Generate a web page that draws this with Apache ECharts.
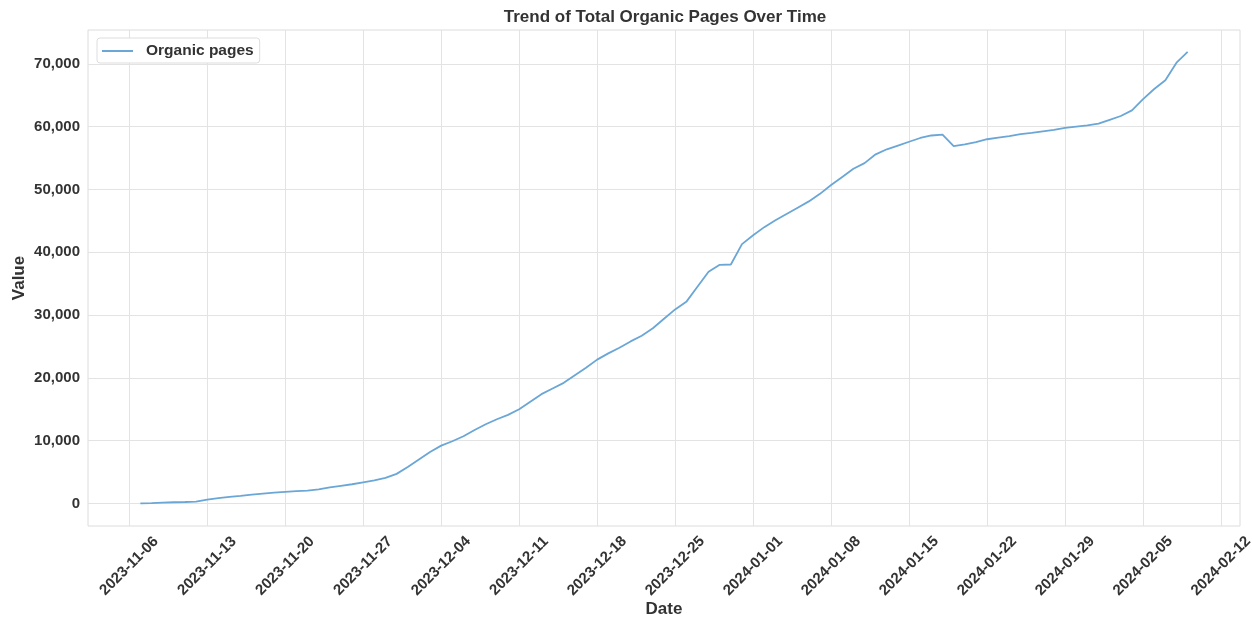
<!DOCTYPE html>
<html lang="en">
<head>
    <meta charset="UTF-8">
    <title>Trend of Total Organic Pages Over Time</title>
</head>
<body style="margin:0;background:#fff;">
    <div id="main" style="width:1252px;height:618px;"></div>
</body>
</html>
<script src="https://cdn.jsdelivr.net/npm/echarts@6/dist/echarts.min.js"></script>
<script type="text/javascript">
    const chart = echarts.init(document.getElementById('main'));

    // daily totals, 2023-11-07 .. 2024-02-09
    const startDate = '2023-11-07';
    const organicPages = [
        0, 50, 120, 180, 220, 280, 600, 850, 1050, 1200,
        1400, 1550, 1700, 1850, 1950, 2050, 2250, 2550, 2800, 3050,
        3350, 3650, 4050, 4700, 5800, 7000, 8200, 9200, 9900, 10700,
        11700, 12600, 13400, 14100, 15000, 16200, 17400, 18300, 19200, 20400,
        21600, 22900, 23900, 24800, 25800, 26700, 27900, 29400, 30900, 32100,
        34500, 36900, 38000, 38050, 41300, 42700, 44000, 45100, 46100, 47100,
        48100, 49300, 50700, 52000, 53300, 54200, 55600, 56400, 57000, 57600,
        58200, 58600, 58750, 56900, 57200, 57550, 58000, 58250, 58500, 58800,
        59000, 59250, 59500, 59800, 60000, 60200, 60500, 61100, 61700, 62600,
        64400, 66000, 67400, 70200, 71900
    ];

    const weekTicks = [
        '2023-11-06', '2023-11-13', '2023-11-20', '2023-11-27', '2023-12-04',
        '2023-12-11', '2023-12-18', '2023-12-25', '2024-01-01', '2024-01-08',
        '2024-01-15', '2024-01-22', '2024-01-29', '2024-02-05', '2024-02-12'
    ];
    const valueTicks = [0, 10000, 20000, 30000, 40000, 50000, 60000, 70000];

    const DAY = 24 * 3600 * 1000;

    function toTime(s) {
        const p = s.split('-').map(Number);
        return new Date(p[0], p[1] - 1, p[2]).getTime();
    }

    function fmtDate(t) {
        const d = new Date(t);
        const mm = String(d.getMonth() + 1).padStart(2, '0');
        const dd = String(d.getDate()).padStart(2, '0');
        return d.getFullYear() + '-' + mm + '-' + dd;
    }

    const t0 = toTime(startDate);
    const seriesData = organicPages.map((v, i) => [t0 + i * DAY, v]);
    const tickTimes = weekTicks.map(toTime);

    const font = "'Liberation Sans', Arial, sans-serif";
    const textColor = '#333333';

    chart.setOption({
        animation: false,
        title: {
            text: 'Trend of Total Organic Pages Over Time',
            left: 665,
            top: 9,
            padding: 0,
            textAlign: 'center',
            textStyle: { fontFamily: font, fontSize: 17, fontWeight: 'bold', color: textColor }
        },
        legend: {
            left: 97,
            top: 38,
            padding: [5, 6, 4, 5],
            borderColor: '#dddddd',
            borderWidth: 1,
            borderRadius: 3,
            backgroundColor: '#ffffff',
            icon: 'rect',
            itemWidth: 31,
            itemHeight: 2,
            itemGap: 10,
            textStyle: { fontFamily: font, fontSize: 15.5, fontWeight: 'bold', color: textColor, padding: [0, 0, 0, 8] },
            data: ['Organic pages']
        },
        grid: {
            left: 88,
            right: 12,
            top: 30,
            bottom: 92,
            containLabel: false,
            outerBoundsMode: 'none',
            show: true,
            borderColor: '#dcdcdc',
            borderWidth: 1
        },
        xAxis: {
            type: 'value',
            min: t0 - 4.7 * DAY,
            max: t0 + 98.7 * DAY,
            name: 'Date',
            nameLocation: 'middle',
            nameGap: 75,
            nameMoveOverlap: false,
            nameTextStyle: { fontFamily: font, fontSize: 17, fontWeight: 'bold', color: textColor },
            axisLine: { show: false },
            axisTick: { show: false, customValues: tickTimes },
            axisLabel: {
                customValues: tickTimes,
                rotate: 45,
                align: 'center',
                verticalAlign: 'middle',
                margin: 40,
                fontFamily: font,
                fontSize: 15,
                fontWeight: 'bold',
                color: textColor,
                formatter: v => fmtDate(v)
            },
            splitLine: { show: true, lineStyle: { color: '#e3e3e3', width: 1 } }
        },
        yAxis: {
            type: 'value',
            min: -3600,
            max: 75400,
            name: 'Value',
            nameLocation: 'middle',
            nameGap: 60,
            nameMoveOverlap: false,
            nameTextStyle: { fontFamily: font, fontSize: 17, fontWeight: 'bold', color: textColor },
            axisLine: { show: false },
            axisTick: { show: false, customValues: valueTicks },
            axisLabel: {
                customValues: valueTicks,
                margin: 8,
                fontFamily: font,
                fontSize: 15,
                fontWeight: 'bold',
                color: textColor,
                formatter: v => v.toLocaleString('en-US')
            },
            splitLine: { show: true, lineStyle: { color: '#e3e3e3', width: 1 } }
        },
        series: [
            {
                name: 'Organic pages',
                type: 'line',
                symbol: 'none',
                data: seriesData,
                lineStyle: { color: '#6aa6d6', width: 1.8 },
                itemStyle: { color: '#6aa6d6' }
            }
        ]
    });
</script>
